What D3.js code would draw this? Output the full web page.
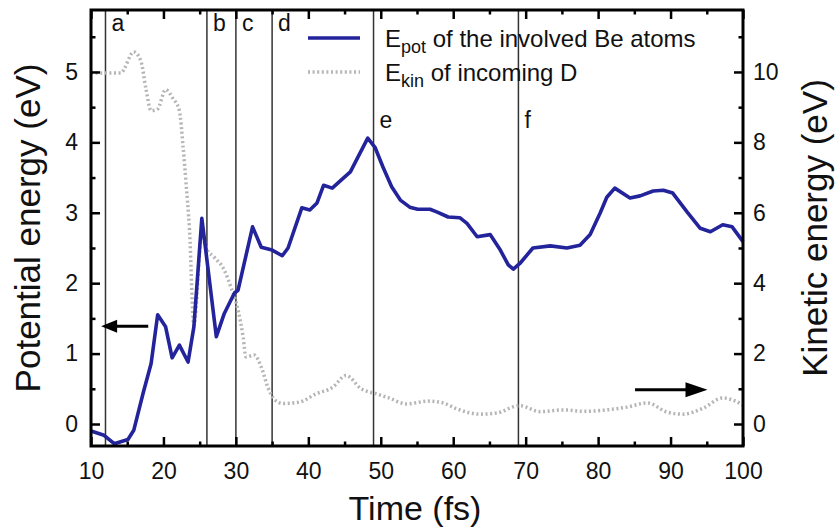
<!DOCTYPE html>
<html>
<head>
<meta charset="utf-8">
<script src="https://cdn.jsdelivr.net/npm/d3@7/dist/d3.min.js"></script>
<style>
  body { margin: 0; background: #fff; }
  svg { display: block; font-family: "Liberation Sans", Arial, Helvetica, sans-serif; }
</style>
</head>
<body>
<svg id="chart" width="836" height="531"></svg>
<script>
// ---- data ----
const timeEpot = [10, 11.8, 13.2, 15.1, 15.9, 17.2, 18.3, 19.2, 20.3, 21.2, 22.2, 23.4, 24.2, 25.3, 27.3, 28.4, 29.8, 30.3, 32.3, 33.5, 35.0, 36.4, 37.2, 39.1, 40.2, 41.2, 42.1, 43.3, 44.6, 45.8, 46.9, 48.2, 49.2, 50.3, 51.5, 52.7, 54.0, 55.1, 56.8, 57.8, 59.3, 60.9, 61.9, 63.3, 65.1, 66.5, 67.6, 68.3, 69.2, 71.0, 73.4, 75.7, 77.5, 78.9, 80.3, 81.2, 82.3, 84.4, 85.8, 87.6, 89.0, 90.3, 92.3, 94.1, 95.5, 97.2, 98.5, 100];
const epot = [-0.10, -0.16, -0.28, -0.22, -0.09, 0.44, 0.86, 1.55, 1.38, 0.94, 1.12, 0.88, 1.38, 2.92, 1.24, 1.57, 1.86, 1.90, 2.80, 2.51, 2.47, 2.39, 2.50, 3.07, 3.04, 3.14, 3.39, 3.35, 3.47, 3.58, 3.80, 4.06, 3.93, 3.65, 3.37, 3.18, 3.08, 3.05, 3.05, 3.01, 2.94, 2.93, 2.85, 2.66, 2.69, 2.47, 2.26, 2.20, 2.28, 2.50, 2.53, 2.50, 2.54, 2.69, 3.00, 3.22, 3.35, 3.21, 3.24, 3.31, 3.32, 3.28, 3.01, 2.78, 2.73, 2.83, 2.80, 2.59];

const timeEkin = [10, 14.1, 15.9, 16.9, 17.6, 18.3, 19.2, 20.3, 21.3, 22.2, 22.7, 23.1, 23.6, 24.2, 25.3, 25.9, 27.0, 28.4, 29.3, 30.3, 31.0, 31.4, 32.5, 33.5, 34.4, 35.3, 36.5, 38.9, 41.0, 43.4, 45.2, 47.3, 49.5, 51.0, 53.6, 56.5, 58.6, 60.5, 63.7, 66.0, 68.5, 69.2, 72.0, 75.2, 78.0, 81.2, 84.0, 86.8, 89.5, 91.7, 94.5, 97.2, 98.6, 100];
const ekin = [9.97, 9.97, 10.57, 10.3, 9.5, 8.9, 8.95, 9.5, 9.25, 8.9, 7.9, 6.9, 5.5, 2.8, 5.4, 5.0, 4.74, 4.37, 3.89, 3.24, 2.47, 1.9, 1.96, 1.62, 1.05, 0.70, 0.58, 0.63, 0.85, 1.05, 1.38, 1.0, 0.85, 0.75, 0.57, 0.65, 0.6, 0.43, 0.28, 0.31, 0.5, 0.52, 0.35, 0.40, 0.36, 0.40, 0.48, 0.60, 0.34, 0.28, 0.45, 0.74, 0.68, 0.54];

const eventTimes = [12, 26, 30, 35, 49, 69];
const eventLabels = ["a", "b", "c", "d", "e", "f"];
const eventLabelLevel = [5.58, 5.58, 5.58, 5.58, 4.2, 4.2]; // in potential-energy units

const xTicks = [10, 20, 30, 40, 50, 60, 70, 80, 90, 100];
const xMinorTicks = [15, 25, 35, 45, 55, 65, 75, 85, 95];
const yLeftTicks = [0, 1, 2, 3, 4, 5];
const yLeftMinor = [0.5, 1.5, 2.5, 3.5, 4.5, 5.5];
const yRightTicks = [0, 2, 4, 6, 8, 10];
const yRightMinor = [1, 3, 5, 7, 9, 11];

const seriesNames = ["of the involved Be atoms", "of incoming D"];

// ---- layout ----
const svg = d3.select("#chart");
const L = 91, R = 743, T = 10, B = 446;
const blue = "#23239b";
const gray = "#b5b5b5";

const x = d3.scaleLinear().domain([10, 100]).range([L, R]);
const yL = d3.scaleLinear().domain([-0.3125, 5.88]).range([B, T]);
const yR = d3.scaleLinear().domain([-0.625, 11.76]).range([B, T]);

// vertical event lines
const ev = svg.append("g");
eventTimes.forEach((t, i) => {
  ev.append("line").attr("x1", x(t)).attr("x2", x(t)).attr("y1", T).attr("y2", B)
    .attr("stroke", "#333").attr("stroke-width", 1.5);
  ev.append("text").attr("x", x(t) + 6).attr("y", yL(eventLabelLevel[i]))
    .attr("font-size", 23).attr("fill", "#111").text(eventLabels[i]);
});

// series
const lineK = d3.line().x((d, i) => x(timeEkin[i])).y(d => yR(d)).curve(d3.curveMonotoneX);
svg.append("path").datum(ekin).attr("d", lineK).attr("fill", "none")
  .attr("stroke", gray).attr("stroke-width", 3.5).attr("stroke-dasharray", "2,2.6");

const lineP = d3.line().x((d, i) => x(timeEpot[i])).y(d => yL(d));
svg.append("path").datum(epot).attr("d", lineP).attr("fill", "none")
  .attr("stroke", blue).attr("stroke-width", 3.6).attr("stroke-linejoin", "round");

// axes (inward ticks)
function styleAxis(g) {
  g.select(".domain").remove();
  g.selectAll(".tick line").attr("stroke", "#000").attr("stroke-width", 2.5);
  g.selectAll(".tick text").attr("font-size", 23).attr("fill", "#111")
    .attr("font-family", "Liberation Sans, Arial, sans-serif");
}
svg.append("g").attr("transform", `translate(0,${B})`)
  .call(d3.axisBottom(x).tickValues(xTicks).tickSize(-9).tickPadding(17).tickFormat(d3.format("d")))
  .call(styleAxis);
svg.append("g").attr("transform", `translate(0,${B})`)
  .call(d3.axisBottom(x).tickValues(xMinorTicks).tickSize(-4.5).tickFormat("")).call(styleAxis);
svg.append("g").attr("transform", `translate(0,${T})`)
  .call(d3.axisTop(x).tickValues(xTicks).tickSize(-9).tickFormat("")).call(styleAxis);
svg.append("g").attr("transform", `translate(0,${T})`)
  .call(d3.axisTop(x).tickValues(xMinorTicks).tickSize(-4.5).tickFormat("")).call(styleAxis);

svg.append("g").attr("transform", `translate(${L},0)`)
  .call(d3.axisLeft(yL).tickValues(yLeftTicks).tickSize(-9).tickPadding(13).tickFormat(d3.format("d")))
  .call(styleAxis);
svg.append("g").attr("transform", `translate(${L},0)`)
  .call(d3.axisLeft(yL).tickValues(yLeftMinor).tickSize(-4.5).tickFormat("")).call(styleAxis);
svg.append("g").attr("transform", `translate(${R},0)`)
  .call(d3.axisRight(yR).tickValues(yRightTicks).tickSize(-9).tickPadding(10).tickFormat(d3.format("d")))
  .call(styleAxis);
svg.append("g").attr("transform", `translate(${R},0)`)
  .call(d3.axisRight(yR).tickValues(yRightMinor).tickSize(-4.5).tickFormat("")).call(styleAxis);

// frame
svg.append("rect").attr("x", L).attr("y", T).attr("width", R - L).attr("height", B - T)
  .attr("fill", "none").attr("stroke", "#000").attr("stroke-width", 3);

// axis titles
svg.append("text").attr("x", 415).attr("y", 520).attr("text-anchor", "middle")
  .attr("font-size", 34).attr("fill", "#111").text("Time (fs)");
svg.append("text").attr("transform", "translate(40,228) rotate(-90)").attr("text-anchor", "middle")
  .attr("font-size", 35).attr("fill", "#111").text("Potential energy (eV)");
svg.append("text").attr("transform", "translate(827,228) rotate(-90)").attr("text-anchor", "middle")
  .attr("font-size", 35).attr("fill", "#111").text("Kinetic energy (eV)");

// legend
const lg = svg.append("g");
lg.append("line").attr("x1", 308).attr("x2", 360).attr("y1", 38).attr("y2", 38)
  .attr("stroke", blue).attr("stroke-width", 3.6);
lg.append("line").attr("x1", 308).attr("x2", 360).attr("y1", 72).attr("y2", 72)
  .attr("stroke", gray).attr("stroke-width", 3.5).attr("stroke-dasharray", "2,2.6");
const t1 = lg.append("text").attr("x", 385).attr("y", 47).attr("font-size", 24).attr("fill", "#111");
t1.append("tspan").text("E");
t1.append("tspan").attr("font-size", 18).attr("dy", 6).text("pot");
t1.append("tspan").attr("dy", -6).text(" " + seriesNames[0]);
const t2 = lg.append("text").attr("x", 385).attr("y", 81).attr("font-size", 24).attr("fill", "#111");
t2.append("tspan").text("E");
t2.append("tspan").attr("font-size", 18).attr("dy", 6).text("kin");
t2.append("tspan").attr("dy", -6).text(" " + seriesNames[1]);

// arrows
function arrow(x0, x1, yy, headLen, headHalf) {
  const dir = Math.sign(x1 - x0);
  svg.append("line").attr("x1", x0).attr("x2", x1 - dir * headLen * 0.8).attr("y1", yy).attr("y2", yy)
    .attr("stroke", "#000").attr("stroke-width", 3);
  svg.append("path")
    .attr("d", `M${x1},${yy} L${x1 - dir * headLen},${yy - headHalf} L${x1 - dir * headLen},${yy + headHalf} Z`)
    .attr("fill", "#000");
}
arrow(x(17.9), x(11.4), yL(1.39), 16, 6.5);
arrow(x(85.1), x(95.1), yR(0.97), 22, 7.5);
</script>
</body>
</html>
